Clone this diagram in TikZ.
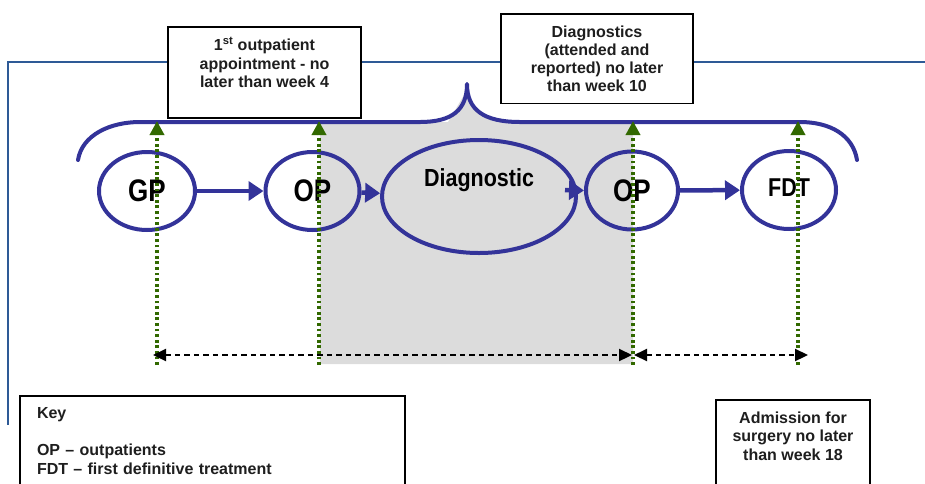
\documentclass[tikz,border=0pt]{standalone}
\usepackage{graphicx}
\usepackage{fontspec}
\setmainfont{Liberation Sans}
\usetikzlibrary{shapes.geometric,arrows.meta}
\definecolor{braceblue}{RGB}{51,51,153}
\definecolor{frameblue}{RGB}{46,90,150}
\definecolor{dgreen}{RGB}{50,105,0}
\definecolor{shadegray}{RGB}{220,220,220}
\definecolor{txt}{RGB}{30,30,30}
\begin{document}
\begin{tikzpicture}[x=1pt,y=-1pt,
  oval/.style={draw=braceblue, line width=4pt, ellipse, inner sep=0pt, text=black},
  bigtxt/.style={font=\fontsize{26}{26}\selectfont\bfseries},
  flow/.style={draw=braceblue, line width=4.5pt, -{Triangle[length=15pt,width=19pt]}},
  guide/.style={draw=dgreen, line width=3.5pt, dash pattern=on 2.8pt off 2.8pt, -{Triangle[length=14pt,width=14pt]}},
  span/.style={draw=black, line width=2.2pt, dash pattern=on 5.5pt off 4pt, {Triangle[length=13pt,width=12pt]}-{Triangle[length=13pt,width=12pt]}},
  box/.style={draw=black, line width=1.6pt, fill=white, font=\fontsize{16}{18.5}\selectfont\bfseries, text=txt, align=center, anchor=north, inner xsep=4pt, inner ysep=12pt},
  bracestyle/.style={draw=braceblue, line width=4pt, line cap=round, line join=round}
]
\useasboundingbox (0,0) rectangle (925,483);

% frame line
\draw[frameblue, line width=1.5pt] (925,62) -- (8,62) -- (8,425);

% shaded band
\fill[shadegray] (320,122) -- (448,122) -- (467,90) -- (472,108) -- (490,119) -- (520,122) -- (633,122) -- (633,364) -- (320,364) -- cycle;

% text boxes
\node[box, minimum width=193pt, inner ysep=10.5pt] (b1) at (264.5,26) {1\textsuperscript{st} outpatient\\appointment - no\\later than week 4\rule[-19.5pt]{0pt}{0pt}};
\node[box, minimum width=192pt, font=\fontsize{16}{18}\selectfont\bfseries] (b2) at (597,13) {Diagnostics\\(attended and\\reported) no later\\than week 10};
\node[box, minimum width=154pt] (b3) at (793,399) {Admission for\\surgery no later\\than week 18\rule[-40pt]{0pt}{0pt}};
\node[box, align=left, text width=351pt, inner xsep=17pt] (key) at (212.5,395) {Key\\[18.5pt]OP -- outpatients\\FDT -- first definitive treatment\rule[-40pt]{0pt}{0pt}};

% brace
\draw[bracestyle] (78,160) .. controls (82,135) and (110,122) .. (140,122) -- (420,122)
  .. controls (452,122) and (467,110) .. (467,84)
  .. controls (467,110) and (484,122) .. (520,122) -- (800,122)
  .. controls (830,122) and (853,135) .. (857,160);

% ellipses
\node[oval, minimum width=96pt, minimum height=78pt, bigtxt] (gp) at (147,191) {\scalebox{1}[1.2]{GP}};
\node[oval, minimum width=94pt, minimum height=78pt, bigtxt] (op1) at (312.5,191) {\scalebox{1}[1.2]{OP}};
\node[oval, minimum width=194pt, minimum height=113pt] (diag) at (479,196.5) {};
\node[font=\fontsize{21.5}{21.5}\selectfont\bfseries, text=black] (diagtxt) at (479,180) {\scalebox{1}[1.15]{Diagnostic}};
\node[oval, minimum width=92pt, minimum height=78pt, bigtxt] (op2) at (632,190.5) {\scalebox{1}[1.2]{OP}};
\node[oval, minimum width=94pt, minimum height=78pt, font=\fontsize{21.5}{21.5}\selectfont\bfseries] (fdt) at (789,190) {\raisebox{4pt}{\scalebox{1}[1.2]{FDT}}};

% flow arrows
\coordinate (dout) at (565,190);
\draw[flow] (gp) -- (op1);
\draw[flow] (op1) -- (diag);
\draw[flow] (dout) -- (op2.west);
\draw[flow] (op2) -- (fdt);

% green guides
\coordinate (g1b) at (157,365); \coordinate (g1t) at (157,121);
\coordinate (g2b) at (319,365); \coordinate (g2t) at (319,121);
\coordinate (g3b) at (633,365); \coordinate (g3t) at (633,121);
\coordinate (g4b) at (798,365); \coordinate (g4t) at (798,121);
\draw[guide] (g1b) -- (g1t);
\draw[guide] (g2b) -- (g2t);
\draw[guide] (g3b) -- (g3t);
\draw[guide] (g4b) -- (g4t);

% dashed spans
\coordinate (s1) at (153,355);
\coordinate (s2) at (632,355);
\coordinate (s3) at (634,355);
\coordinate (s4) at (808,355);
\draw[span] (s1) -- (s2);
\draw[span] (s3) -- (s4);
\end{tikzpicture}
\end{document}
